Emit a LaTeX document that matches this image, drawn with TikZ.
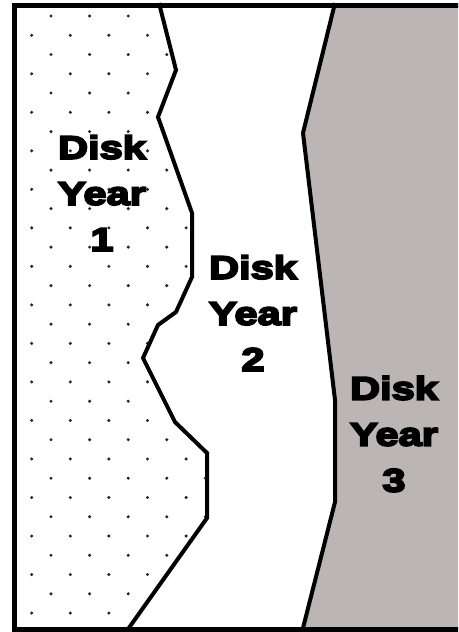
\documentclass[tikz,border=0pt]{standalone}
\usepackage{fontspec}
\newfontfamily\heavy{Liberation Sans}[UprightFont=* Bold, FakeStretch=1.28, FakeBold=6]
\definecolor{diskgray}{RGB}{187,181,181}
\tikzset{
  boundary/.style={line width=4pt, line join=miter},
  frame/.style={line width=5pt},
  disklabel/.style={font=\heavy\fontsize{32.5}{46}\selectfont, align=center, inner sep=0pt, text=black},
  dotmark/.style={fill=black!85}
}
\begin{document}
\begin{tikzpicture}[x=1pt,y=-1pt]
\useasboundingbox (0,0) rectangle (458,632);
\begin{scope}
\clip (0,0) rectangle (458,632);
% gray region
\fill[diskgray] (335,5) -- (303,133) -- (335,400) -- (335,502) -- (303,630) -- (470,630) -- (470,5) -- cycle;
% dots in region 1
\begin{scope}
\clip (14,5) -- (159,5) -- (176,70) -- (158,117) -- (192,213) -- (192,277) -- (176,312) -- (158,325) -- (143,358) -- (175,422) -- (207,453) -- (207,518) -- (128,630) -- (14,630) -- cycle;
\foreach \k in {0,...,31}{
  \pgfmathsetmacro{\yy}{16+19.26*\k}
  \pgfmathsetmacro{\off}{mod(\k,2)==0 ? 19.3 : 0}
  \foreach \j in {0,...,5}{
    \fill[dotmark] ({31.7+\off+38.6*\j},\yy) circle (1.7pt);
  }
}
\end{scope}
% boundary lines
\draw[boundary] (159,3) -- (176,70) -- (158,117) -- (192,213) -- (192,277) -- (176,312) -- (158,325) -- (143,358) -- (175,422) -- (207,453) -- (207,518) -- (126,632);
\draw[boundary] (335,3) -- (303,133) -- (335,400) -- (335,502) -- (302,632);
% frame
\draw[frame] (14.5,5.8) rectangle (462,629.5);
\end{scope}
\node[disklabel] (y1) at (102,193) {Disk\\Year\\1};
\node[disklabel] (y2) at (253,313) {Disk\\Year\\2};
\node[disklabel] (y3) at (394,434) {Disk\\Year\\3};
\end{tikzpicture}
\end{document}
